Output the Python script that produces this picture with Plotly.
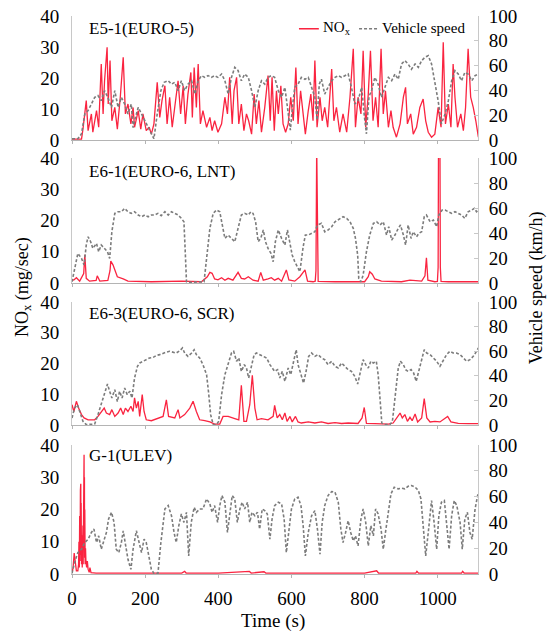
import plotly.graph_objects as go

# ---------------------------------------------------------------
# Time series (time in s, NOx in mg/sec, speed in km/h)
# ---------------------------------------------------------------
PANEL_LABELS = ["E5-1(EURO-5)", "E6-1(EURO-6, LNT)", "E6-3(EURO-6, SCR)", "G-1(ULEV)"]

E51_NOX = [(0,0.3),(26,0.3),(30,3.5),(39,12.7),(44,3.0),(53,8.4),(57,2.5),(67,9.5),(73,4.1),(80,24.5),
           (85,8.4),(89,19.1),(96,29.9),(99,11.6),(104,25.6),(109,6.2),(117,10.5),(124,3.5),(132,13.8),
           (140,26.7),(146,8.4),(153,11.6),(161,5.2),(167,10.5),(171,4.1),(181,9.5),(188,3.5),(194,8.4),
           (203,3.0),(211,4.1),(217,1.9),(224,5.2),(233,18.6),(240,7.3),(246,12.7),(254,17.5),(260,5.2),
           (267,13.8),(274,4.1),(281,10.5),(290,19.1),(297,8.4),(304,17.5),(310,5.2),(317,14.8),(325,21.8),
           (329,7.3),(334,23.4),(340,10.5),(345,24.5),(351,5.2),(358,9.5),(368,4.1),(377,7.3),(383,3.0),
           (390,6.2),(399,2.5),(409,5.2),(418,13.8),(425,8.4),(431,20.2),(438,5.2),(443,15.9),(450,20.2),
           (456,5.2),(463,11.6),(470,3.0),(477,8.4),(483,6.2),(491,1.9),(498,14.8),(504,5.2),(511,12.7),
           (518,2.5),(527,10.5),(536,20.8),(542,6.2),(547,20.2),(553,3.0),(559,15.9),(564,8.4),(571,17.5),
           (577,5.2),(584,2.5),(591,5.2),(598,13.8),(605,6.2),(612,23.4),(618,5.2),(625,15.9),(632,8.4),
           (638,1.9),(646,9.5),(653,14.8),(659,6.2),(664,25.6),(670,4.1),(678,13.8),(684,6.2),(691,10.5),
           (699,4.1),(710,22.9),(716,6.2),(723,10.5),(732,2.5),(741,8.4),(751,2.5),(760,13.8),(769,29.4),
           (775,4.1),(782,13.8),(790,8.4),(796,28.8),(803,4.1),(810,14.8),(816,28.8),(823,6.2),(830,13.8),
           (837,4.1),(845,29.4),(851,8.4),(857,15.9),(865,4.1),(872,9.5),(878,4.1),(887,0.9),(897,5.2),
           (906,13.8),(912,17.0),(917,5.2),(926,8.4),(933,1.9),(942,4.1),(951,10.5),(960,13.2),(967,6.2),
           (974,2.5),(983,0.9),(992,1.9),(1001,10.5),(1009,4.1),(1015,31.5),(1021,5.2),(1029,11.6),
           (1036,4.1),(1042,24.5),(1047,13.8),(1054,4.1),(1063,8.4),(1070,3.0),(1076,10.5),(1083,29.4),
           (1090,13.8),(1097,10.5),(1104,6.2),(1111,0.9)]

E51_SPEED = [(0,1),(16,1),(26,5),(35,21),(44,23.7),(53,29),(62,34.4),(71,35.8),(80,31.7),(89,39.8),
             (98,34.4),(108,26.3),(117,39.8),(126,26.3),(135,34.4),(144,29),(153,21),(162,29),(167,10),
             (171,15.6),(181,26.3),(190,21),(199,15.6),(208,10),(217,5),(224,1),(233,21),(243,39.8),
             (252,46.5),(263,47.8),(272,45),(281,46.5),(290,39.8),(299,47.8),(308,39.8),(317,45),
             (327,47.8),(336,37),(345,47.8),(354,51.9),(363,50.5),(372,51.9),(381,50.5),(390,51.9),
             (399,50.5),(409,53.2),(418,47.8),(427,37),(436,50.5),(445,58.6),(454,56),(463,47.8),
             (472,53.2),(482,50.5),(491,39.8),(500,26.3),(509,39.8),(518,47.8),(527,45),(536,50.5),
             (545,51.9),(554,50.5),(564,39.8),(573,34.4),(582,42.5),(591,20),(597,8),(604,30),(609,42.5),
             (618,45),(627,50.5),(637,49),(646,50.5),(655,42.5),(664,34.4),(670,16),(676,45),(682,49),
             (691,37),(700,42.5),(710,47.8),(719,50.5),(728,51.9),(737,50.5),(746,51.9),(755,53.2),
             (764,42.5),(773,29),(782,31.7),(792,42.5),(799,20),(805,5),(812,35),(819,39.8),(828,50.5),
             (837,45),(846,34.4),(855,42.5),(865,50.5),(874,47.8),(883,53.2),(892,49),(901,61.3),
             (910,64),(919,61.3),(928,57),(938,61.3),(947,58.6),(956,64),(965,66.7),(974,68),(983,61.3),
             (992,47.8),(1001,31.7),(1010,13),(1020,21),(1029,31.7),(1038,47.8),(1047,56),(1056,53.2),
             (1065,47.8),(1074,54.5),(1083,53.2),(1093,47.8),(1102,51.9),(1111,53.2)]

E61_NOX = [(0,0.8),(5,1.0),(12,1.7),(21,0.6),(32,3),(35,9),(39,1.5),(48,0.6),(66,0.8),(69,2.3),(76,0.6),
           (98,0.8),(104,4),(106,7),(112,5.8),(117,4.2),(124,2),(140,1.3),(153,0.6),(217,0.4),(280,0.6),
           (300,0.6),(354,0.4),(370,2),(377,3.4),(383,3.1),(390,1.3),(399,1.0),(409,1.7),(418,0.9),
           (427,1.5),(440,0.9),(454,3.4),(463,1.5),(472,1.3),(482,2),(495,0.9),(509,0.6),(516,3.4),
           (523,0.9),(536,1.3),(545,1.7),(554,0.9),(564,1.5),(573,0.6),(586,4.2),(593,1.0),(609,0.6),
           (623,2),(637,4.2),(644,0.6),(659,0.4),(665,0.6),(667,4),(669,44),(671,4),(673,0.5),(719,0.4),
           (800,0.4),(810,2),(814,3.6),(821,2.8),(828,1.3),(846,0.6),(901,0.4),(924,0.9),(956,0.6),
           (965,2.3),(969,8.1),(973,0.9),(992,0.4),(999,0.5),(1001,5),(1002,44),(1006,44),(1007,5),
           (1009,0.5),(1029,0.4),(1111,0.4)]

E61_SPEED = [(0,1),(7,11.7),(16,23.7),(26,19.7),(33,14.4),(39,30.4),(44,37),(51,33),(57,27.7),(67,31.7),
             (73,25),(80,30.4),(88,27.7),(97,25),(103,19.7),(109,41),(117,55.7),(126,57),(135,57),
             (144,59.7),(153,57),(162,55.7),(171,57),(181,54.4),(190,53),(199,54.4),(208,53),(217,54.4),
             (226,54.4),(235,55.7),(244,53.9),(254,57),(263,54.4),(272,57),(281,55.7),(290,54.4),
             (299,51.7),(306,49),(310,22.4),(313,1),(317,0.5),(354,0.5),(361,1),(368,19.7),(377,43.7),
             (386,55.7),(395,58.4),(404,57),(410,46.4),(418,35.7),(427,38.4),(436,35.7),(445,33),
             (454,43.7),(463,54.4),(472,55.7),(482,54.4),(489,57),(495,55.7),(502,49),(509,33),(516,35.7),
             (523,42.4),(529,33),(536,27.7),(544,23.7),(550,17),(556,33),(564,42.4),(573,35.7),(582,30.4),
             (589,42.4),(596,33),(602,22.4),(609,17),(617,11.7),(623,9),(632,29),(638,38.4),(646,38.4),
             (655,39.7),(664,41),(671,46.4),(682,47.7),(691,41),(700,42.4),(710,45),(719,49),(734,51.7),
             (741,53),(751,51.7),(760,49),(769,43.7),(775,35.7),(781,22.4),(784,3.7),(790,1),(796,6.4),
             (805,25),(814,38.4),(824,47.7),(833,49),(842,46.4),(851,49),(860,38.4),(866,45),(874,34.4),
             (883,38.4),(892,43.7),(898,46.4),(906,38.4),(912,30.4),(919,46.4),(927,35.7),(933,41),
             (942,37),(948,39.7),(956,41),(963,53),(969,54.4),(979,49),(988,50.4),(997,45),(1003,54.4),
             (1012,58.4),(1020,58.4),(1029,57),(1038,55.7),(1047,57),(1056,55.7),(1065,54.4),(1074,51.7),
             (1083,57),(1093,58.4),(1100,59.7),(1106,57),(1111,58.4)]

E63_NOX = [(0,6.6),(5,4.4),(12,7.7),(18,5.5),(26,3.4),(33,2.3),(44,1.7),(62,1.7),(71,2.8),(80,4.4),
           (88,5.5),(94,3.9),(103,3.4),(109,5.0),(117,2.8),(126,3.9),(133,5.5),(140,3.4),(146,5.5),
           (153,4.4),(161,6.1),(167,4.4),(171,8.8),(176,5.5),(181,7.7),(185,2.8),(192,9.9),(197,4.4),
           (203,1.7),(217,1.4),(235,2.3),(249,2.8),(258,8.2),(264,2.8),(281,2.3),(290,5.0),(295,2.3),
           (308,3.4),(322,5.5),(331,7.7),(340,4.4),(349,1.7),(363,1.4),(377,1.0),(390,0.3),(404,0.3),
           (413,2.8),(427,2.8),(445,2.1),(456,1.7),(463,12.9),(470,1.2),(477,1.2),(486,6.6),(493,16.2),
           (500,5.5),(506,1.7),(518,2.1),(536,1.7),(550,2.8),(554,6.4),(561,2.3),(568,3.4),(575,1.7),
           (582,3.9),(588,1.2),(596,2.8),(602,1.0),(611,2.8),(618,1.0),(627,0.65),(646,1.0),(664,0.65),
           (682,1.0),(700,0.5),(719,0.75),(737,0.5),(755,0.65),(782,0.5),(793,2.3),(799,5.7),(805,0.5),
           (828,0.45),(865,0.3),(878,0.65),(887,2.1),(897,3.9),(903,2.3),(910,3.4),(917,1.2),(924,2.5),
           (930,1.4),(938,3.6),(945,1.0),(956,2.3),(963,8.6),(970,2.3),(979,1.0),(992,1.2),(1006,1.0),
           (1020,2.3),(1027,2.8),(1036,1.0),(1056,0.5),(1083,0.45),(1111,0.45)]

E63_SPEED = [(0,5.7),(7,13.8),(15,16.5),(21,11.1),(30,3),(39,0.3),(62,0.8),(71,8.4),(80,16.5),(89,24.7),
             (97,33.3),(103,27.4),(109,22),(117,28.7),(124,19),(130,27.4),(137,22),(144,30.1),(151,24.7),
             (158,27.4),(164,22),(171,38.2),(179,47.7),(185,50.4),(194,51.8),(203,53.1),(212,54.5),
             (222,55),(231,56.6),(240,57.2),(249,58.5),(258,59.3),(267,59.9),(276,59.3),(285,58.5),
             (295,60.4),(302,62.6),(308,58.5),(317,55.8),(327,58.5),(334,61.2),(340,57.2),(349,54.5),
             (358,49.1),(368,40.9),(374,24.7),(379,8.4),(386,0.3),(395,0.3),(401,3),(409,24.7),(418,40.9),
             (427,49.1),(436,58.5),(442,59.9),(450,51.8),(456,54.5),(463,43.6),(471,49.1),(477,46.3),
             (483,38.2),(491,49.1),(498,57.2),(504,58.5),(513,57.2),(523,55.8),(532,54.5),(541,49.1),
             (547,46.3),(554,43.6),(562,45),(568,38.2),(575,43.6),(582,35.5),(591,46.3),(598,40.9),
             (606,51.8),(613,61.2),(618,49.1),(626,40.9),(633,34.1),(640,43.6),(647,55.8),(655,58.5),
             (664,55.8),(673,57.2),(682,54.5),(691,53.1),(700,49.1),(710,51.8),(719,47.7),(728,46.3),
             (737,50.4),(746,47.7),(755,45),(764,43.6),(773,39.6),(781,33.3),(788,43.6),(796,53.1),
             (803,49.1),(810,46.3),(817,51.8),(824,50.4),(832,51.8),(837,40.9),(842,22),(847,1.6),
             (855,0.3),(869,0.3),(876,3),(883,24.7),(892,46.3),(898,51.8),(906,49.1),(912,45),(919,43.6),
             (927,45),(934,42.3),(941,35.5),(948,45),(956,53.1),(963,61.2),(970,58.5),(979,57.2),
             (988,54.5),(997,51.8),(1006,47.7),(1015,53.1),(1024,57.2),(1033,59.9),(1042,58.5),
             (1051,58.5),(1061,57.2),(1070,54.5),(1079,51.8),(1088,53.1),(1097,55.8),(1106,59.9),
             (1111,62.6)]

G1_NOX = [(0,0.3),(3,2),(6,6.5),(9,3),(12,1),(16,1),(18,3),(19,10),(20,2),(21,18),(22,4),(23,26),
          (23.5,8),(24,28),(24.5,6),(25,22),(26,3),(27,12),(28,2),(29,6),(30,15),(30.5,3),(31,24),
          (31.5,5),(32,33),(32.5,8),(33,37),(33.5,10),(34,30),(34.5,5),(35,20),(36,3),(37,8),(38,4.3),
          (40,2),(42,4),(44,1.5),(47,0.5),(49,2),(52,0.4),(66,0.3),(100,0.3),(300,0.3),(308,0.8),
          (312,0.3),(400,0.3),(485,0.8),(490,0.3),(525,0.7),(530,0.3),(800,0.3),(833,1.0),(838,0.3),
          (940,0.3),(943,0.8),(947,0.3),(1065,0.3),(1068,0.8),(1072,0.3),(1111,0.3)]

G1_SPEED = [(0,0.5),(7,8.8),(16,16.6),(26,19.2),(35,24.4),(44,27),(53,32.2),(60,34.8),(67,24.4),(73,29.6),
            (80,19.2),(88,27),(94,32.2),(100,42.6),(108,47.8),(115,40),(121,19.2),(128,16.6),(135,24.4),
            (140,33.5),(146,24.4),(153,11.4),(161,3.6),(167,19.2),(176,33.5),(182,27),(190,16.6),
            (197,27),(203,24.4),(210,14),(217,3.6),(224,0.5),(235,0.5),(243,24.4),(254,50.4),(263,53),
            (272,45.2),(279,32.2),(285,24.4),(292,37.4),(299,46.5),(306,40),(313,47.8),(319,14),(326,40),
            (334,51.7),(340,47.8),(349,50.4),(358,50.4),(368,58.2),(377,54.3),(383,47.8),(390,53),
            (398,40),(404,53),(410,60.8),(418,55.6),(425,32.2),(431,45.2),(438,60.8),(445,58.2),(452,40),
            (459,50.4),(465,55.6),(472,50.4),(480,55.6),(486,40),(492,47.8),(500,45.2),(507,47.8),
            (513,34.8),(520,50.4),(527,49.1),(534,46.5),(541,27),(547,42.6),(554,53),(564,55.6),
            (573,54.3),(580,42.6),(586,16.6),(593,34.8),(600,50.4),(609,58.2),(618,59.5),(626,53),
            (632,37.4),(638,14),(646,32.2),(655,45.2),(664,49.1),(671,34.8),(678,15.3),(684,40),(691,53),
            (700,60.8),(710,63.9),(719,63.4),(728,55.6),(735,34.8),(741,24.4),(748,32.2),(755,41.3),
            (762,32.2),(769,25.7),(775,29.6),(782,21.8),(790,42.6),(796,50.4),(803,40),(810,21.8),
            (817,37.4),(824,29.6),(830,50.4),(837,46.5),(845,34.8),(851,19.2),(857,32.2),(865,50.4),
            (872,62.1),(881,67.3),(892,66),(901,66.5),(910,66),(919,68),(928,68.6),(938,67.3),(947,64.7),
            (954,58.2),(960,40),(967,14),(974,32.2),(983,56.9),(990,40),(997,19.2),(1003,45.2),
            (1010,55.6),(1018,56.9),(1024,40),(1031,19.2),(1038,45.2),(1045,56.9),(1052,53),(1061,40),
            (1067,19.2),(1074,42.6),(1081,47.8),(1088,32.2),(1094,27),(1102,50.4),(1109,60.8),(1111,62.1)]

NOX_SERIES = [E51_NOX, E61_NOX, E63_NOX, G1_NOX]
SPEED_SERIES = [E51_SPEED, E61_SPEED, E63_SPEED, G1_SPEED]

X_TICKS = [0, 200, 400, 600, 800, 1000]
NOX_TICKS = [0, 10, 20, 30, 40]
SPEED_TICKS = [0, 20, 40, 60, 80, 100]

# ---------------------------------------------------------------
# Styling
# ---------------------------------------------------------------
FONT = "Liberation Serif"
NOX_COLOR = "#fa2440"
SPEED_COLOR = "#7c7c7c"
AXIS_COLOR = "#c8c8c8"

# vertical extent of each panel (paper fraction, bottom -> top)
DOMAINS = [(0.7778, 1.0), (0.5215, 0.7455), (0.2670, 0.4875), (0.0, 0.2312)]
LABEL_Y = [0.903, 0.896, 0.906, 0.922]


def ax_id(letter, n):
    """Plotly axis id: 'x', 'x2', ... (no suffix for the first one)."""
    return letter if n == 1 else f"{letter}{n}"


fig = go.Figure()

for i in range(4):
    n = i + 1
    t_n, v_n = zip(*NOX_SERIES[i])
    t_s, v_s = zip(*SPEED_SERIES[i])
    fig.add_trace(go.Scatter(
        x=t_s, y=v_s, mode="lines", name="Vehicle speed",
        line=dict(color=SPEED_COLOR, width=1.6, dash="3px,2px"),
        xaxis=ax_id("x", n), yaxis=f"y{n + 4}", showlegend=False))
    fig.add_trace(go.Scatter(
        x=t_n, y=v_n, mode="lines", name="NOx",
        line=dict(color=NOX_COLOR, width=1.3),
        xaxis=ax_id("x", n), yaxis=ax_id("y", n), showlegend=False))

layout = dict(
    template="none",
    width=551, height=634,
    margin=dict(l=72, r=73, t=16, b=60),
    paper_bgcolor="white", plot_bgcolor="white",
    font=dict(family=FONT, size=19, color="black"),
    showlegend=False,
)

for i in range(4):
    n = i + 1
    sfx = "" if n == 1 else str(n)
    layout[f"xaxis{sfx}"] = dict(
        domain=[0, 1], range=[0, 1110], anchor=ax_id("y", n),
        tickvals=X_TICKS, showticklabels=(n == 4),
        showline=True, linecolor="#b4b4b4", linewidth=1,
        ticks="outside", ticklen=3, tickcolor="#b4b4b4",
        showgrid=False, zeroline=False, automargin=False,
        tickfont=dict(family=FONT, size=19), ticklabelstandoff=4,
    )
    layout[f"yaxis{sfx}"] = dict(
        domain=list(DOMAINS[i]), range=[0, 40], anchor=ax_id("x", n),
        tickvals=NOX_TICKS, showline=True, linecolor=AXIS_COLOR, linewidth=1,
        ticks="", showgrid=False, zeroline=False, automargin=False,
        tickfont=dict(family=FONT, size=19), ticklabelstandoff=8,
    )
    layout[f"yaxis{n + 4}"] = dict(
        overlaying=ax_id("y", n), side="right", anchor=ax_id("x", n),
        range=[0, 100], tickvals=SPEED_TICKS,
        showline=True, linecolor=AXIS_COLOR, linewidth=1,
        ticks="inside", ticklen=4, tickcolor=AXIS_COLOR,
        showgrid=False, zeroline=False, automargin=False,
        tickfont=dict(family=FONT, size=19), ticklabelstandoff=6,
    )

fig.update_layout(**layout)

# panel captions
for i, label in enumerate(PANEL_LABELS):
    n = i + 1
    fig.add_annotation(
        text=label, xref=f"{ax_id('x', n)} domain", yref=f"{ax_id('y', n)} domain",
        x=0.036, y=LABEL_Y[i], xanchor="left", yanchor="middle",
        showarrow=False, font=dict(family=FONT, size=17))

# legend drawn inside the top panel
fig.add_shape(type="line", xref="x domain", yref="y domain",
              x0=0.559, x1=0.608, y0=0.897, y1=0.897,
              line=dict(color=NOX_COLOR, width=1.5))
fig.add_annotation(text="NO<sub>x</sub>", xref="x domain", yref="y domain",
                   x=0.614, y=0.905, xanchor="left", yanchor="middle",
                   showarrow=False, font=dict(family=FONT, size=15))
fig.add_shape(type="line", xref="x domain", yref="y domain",
              x0=0.707, x1=0.754, y0=0.897, y1=0.897,
              line=dict(color=SPEED_COLOR, width=1.6, dash="3px,2px"))
fig.add_annotation(text="Vehicle speed", xref="x domain", yref="y domain",
                   x=0.759, y=0.905, xanchor="left", yanchor="middle",
                   showarrow=False, font=dict(family=FONT, size=15))

# axis titles
fig.add_annotation(text="NO<sub>x</sub> (mg/sec)", xref="paper", yref="paper",
                   x=-0.121, y=0.514, textangle=-90, showarrow=False,
                   xanchor="center", yanchor="middle", font=dict(family=FONT, size=18))
fig.add_annotation(text="Vehicle speed (km/h)", xref="paper", yref="paper",
                   x=1.143, y=0.512, textangle=-90, showarrow=False,
                   xanchor="center", yanchor="middle", font=dict(family=FONT, size=18))
fig.add_annotation(text="Time (s)", xref="paper", yref="paper",
                   x=0.494, y=-0.084, showarrow=False,
                   xanchor="center", yanchor="middle", font=dict(family=FONT, size=19))

fig.write_html("out.html")
